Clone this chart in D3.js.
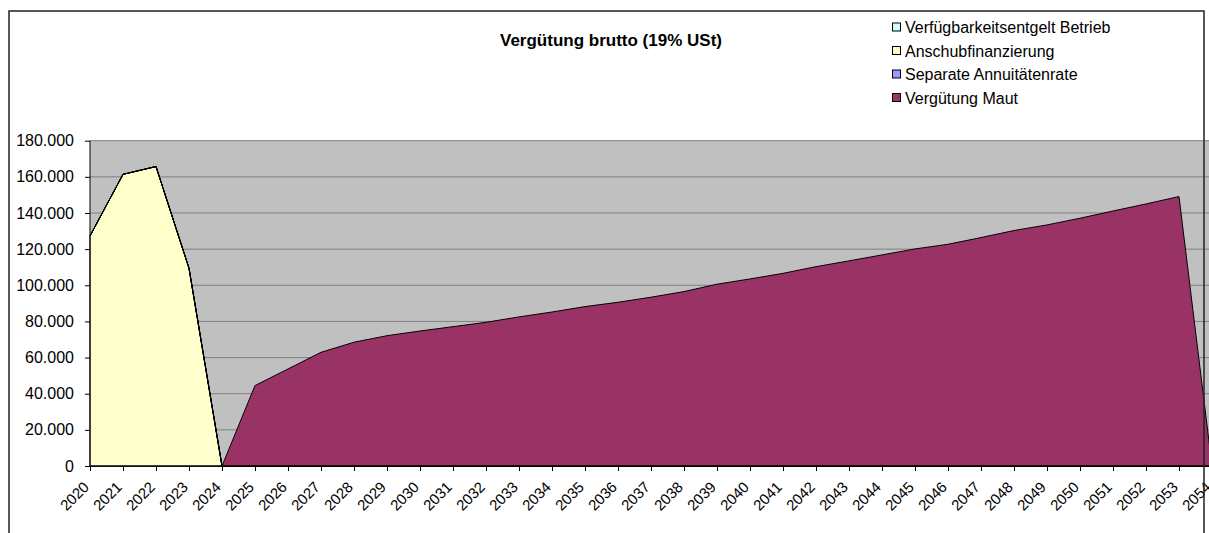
<!DOCTYPE html>
<html>
<head>
<meta charset="utf-8">
<script src="https://cdn.jsdelivr.net/npm/d3@7"></script>
<style>
  body { margin: 0; background: #fff; }
  svg { display: block; font-family: Arial, "Liberation Sans", sans-serif; }
</style>
</head>
<body>
<svg id="chart" width="1209" height="533"></svg>
<script>
const years = d3.range(2020, 2055).map(String);

// values in EUR (thousands dot-separated on the axis)
const verfuegbarkeit = years.map(() => 0);
const anschub = [127300, 161400, 165700, 109400, 0].concat(d3.range(30).map(() => 0));
const annuitaet = years.map(() => 0);
const maut = [0, 0, 0, 0, 0,
  44500, 53700, 62900, 68500, 72100, 74700, 77100, 79500, 82500, 85200,
  88200, 90600, 93400, 96500, 100600, 103500, 106600, 110300, 113500, 116800,
  120100, 122700, 126400, 130300, 133400, 137100, 141100, 145000, 149100, 0];

const seriesNames = ["Verfügbarkeitsentgelt Betrieb", "Anschubfinanzierung", "Separate Annuitätenrate", "Vergütung Maut"];
const seriesColors = ["#CCFFFF", "#FFFFCC", "#9999FF", "#993366"];
const yTicks = d3.range(0, 180001, 20000);

const plotLeft = 90,
  plotRight = 1212,
  plotTop = 140.7,
  plotBottom = 466;

const svg = d3.select("#chart");

const rows = years.map((y, i) => ({
  year: y,
  s0: verfuegbarkeit[i],
  s1: anschub[i],
  s2: annuitaet[i],
  s3: maut[i]
}));

const stacked = d3.stack().keys(["s0", "s1", "s2", "s3"])(rows);

const x = d3.scalePoint().domain(years).range([plotLeft, plotRight]);
const y = d3.scaleLinear().domain([0, 180000]).range([plotBottom, plotTop]);

const de = d3.formatLocale({ decimal: ",", thousands: ".", grouping: [3], currency: ["", " €"] });
const fmt = de.format(",");

// plot background
svg.append("rect")
  .attr("x", plotLeft).attr("y", plotTop)
  .attr("width", plotRight - plotLeft).attr("height", plotBottom - plotTop)
  .attr("fill", "#C0C0C0");

// gridlines
svg.append("g").selectAll("line")
  .data(yTicks.filter(d => d > 0))
  .enter().append("line")
  .attr("x1", plotLeft).attr("x2", plotRight)
  .attr("y1", d => y(d)).attr("y2", d => y(d))
  .attr("stroke", "#808080").attr("stroke-width", 1);

// stacked areas
const area = d3.area()
  .x((d, i) => x(years[i]))
  .y0(d => y(d[0]))
  .y1(d => y(d[1]));

svg.append("g").selectAll("path")
  .data(stacked)
  .enter().append("path")
  .attr("d", area)
  .attr("fill", (d, i) => seriesColors[i])
  .attr("stroke", "#000")
  .attr("stroke-width", 1)
  .attr("stroke-linejoin", "miter");

// y axis
const yAxis = svg.append("g")
  .attr("transform", `translate(${plotLeft},0)`)
  .call(d3.axisLeft(y).tickValues(yTicks).tickFormat(fmt).tickSize(5).tickPadding(11));
yAxis.select(".domain").attr("stroke", "#000").attr("d", `M0,${plotTop}V${plotBottom}`);
yAxis.selectAll("text").attr("font-size", 16).attr("fill", "#000").attr("font-family", "Arial, 'Liberation Sans', sans-serif");

// x axis
const xAxis = svg.append("g")
  .attr("transform", `translate(0,${plotBottom})`)
  .call(d3.axisBottom(x).tickSize(5).tickFormat(""));
xAxis.select(".domain").attr("stroke", "#000").attr("d", `M${plotLeft},0H${plotRight}`);

svg.append("g").selectAll("text")
  .data(years)
  .enter().append("text")
  .attr("transform", d => `translate(${x(d)},${plotBottom + 22}) rotate(-45)`)
  .attr("text-anchor", "end")
  .attr("font-size", 15)
  .attr("fill", "#000")
  .text(d => d);

// chart border
svg.append("path")
  .attr("d", "M9,533V11H1204V533")
  .attr("fill", "none")
  .attr("stroke", "#222")
  .attr("stroke-width", 1.5);

// title
svg.append("text")
  .attr("x", 611).attr("y", 46)
  .attr("text-anchor", "middle")
  .attr("font-size", 17)
  .attr("font-weight", "bold")
  .text("Vergütung brutto (19% USt)");

// legend
const legend = svg.append("g").selectAll("g")
  .data(seriesNames)
  .enter().append("g")
  .attr("transform", (d, i) => `translate(892,${27.5 + i * 23.5})`);

legend.append("rect")
  .attr("x", 0.5).attr("y", -4.5)
  .attr("width", 8).attr("height", 8)
  .attr("fill", (d, i) => seriesColors[i])
  .attr("stroke", "#000");

legend.append("text")
  .attr("x", 13).attr("y", 0)
  .attr("dy", "0.36em")
  .attr("font-size", 16)
  .text(d => d);
</script>
</body>
</html>
